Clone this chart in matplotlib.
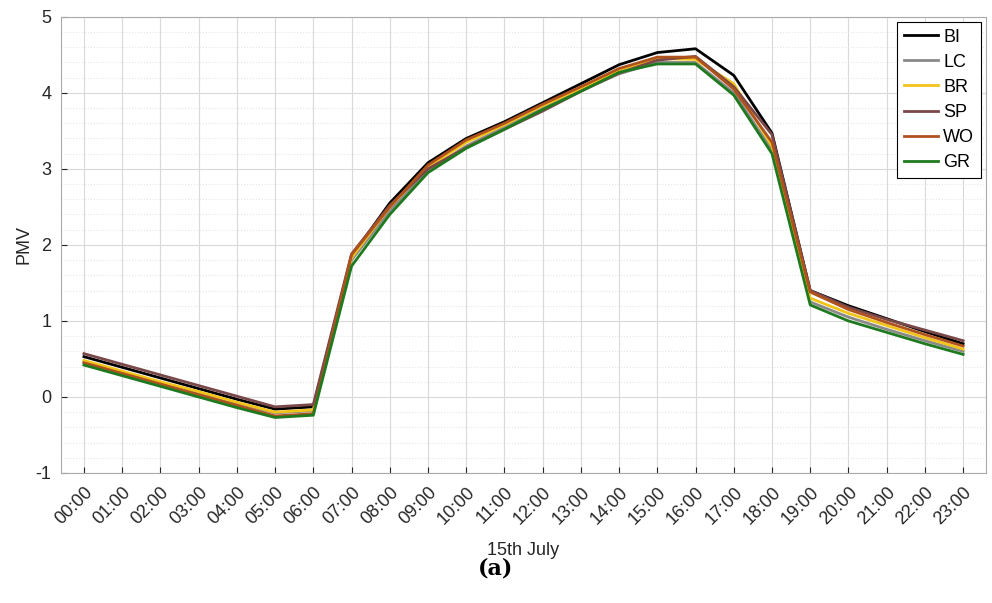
import numpy as np
import matplotlib
matplotlib.use('Agg')
import matplotlib.pyplot as plt
from matplotlib.ticker import MultipleLocator

plt.rcParams['font.family'] = ['Liberation Sans', 'DejaVu Sans']
plt.rcParams['axes.unicode_minus'] = False

hours = ['%02d:00' % h for h in range(24)]

# PMV values, one per hour
BI = [0.53, 0.39, 0.25, 0.11, -0.03, -0.16, -0.13, 1.85, 2.55, 3.08, 3.40, 3.62,
      3.87, 4.12, 4.37, 4.53, 4.58, 4.23, 3.47, 1.40, 1.20, 1.03, 0.86, 0.70]
LC = [0.46, 0.32, 0.18, 0.05, -0.08, -0.21, -0.18, 1.80, 2.45, 2.98, 3.30, 3.55,
      3.80, 4.03, 4.25, 4.40, 4.40, 4.00, 3.25, 1.25, 1.05, 0.89, 0.74, 0.60]
BR = [0.48, 0.34, 0.20, 0.07, -0.07, -0.20, -0.17, 1.83, 2.50, 3.02, 3.35, 3.58,
      3.83, 4.06, 4.30, 4.45, 4.44, 4.12, 3.30, 1.30, 1.10, 0.94, 0.78, 0.63]
SP = [0.57, 0.43, 0.29, 0.15, 0.01, -0.13, -0.10, 1.88, 2.52, 3.00, 3.28, 3.52,
      3.76, 4.02, 4.26, 4.43, 4.48, 4.08, 3.45, 1.40, 1.18, 1.02, 0.88, 0.74]
WO = [0.45, 0.31, 0.17, 0.03, -0.11, -0.25, -0.22, 1.87, 2.50, 3.05, 3.38, 3.60,
      3.85, 4.08, 4.32, 4.47, 4.47, 4.05, 3.35, 1.38, 1.15, 0.98, 0.82, 0.67]
GR = [0.42, 0.28, 0.14, 0.00, -0.14, -0.27, -0.24, 1.72, 2.40, 2.95, 3.27, 3.52,
      3.78, 4.02, 4.27, 4.38, 4.38, 3.97, 3.20, 1.21, 1.00, 0.85, 0.70, 0.56]

names = ['BI', 'LC', 'BR', 'SP', 'WO', 'GR']
series = [BI, LC, BR, SP, WO, GR]
clr = ['black', '#8a8a8a', '#f2c417', '#7a4848', '#b0521e', '#1f7a1f']

fig = plt.figure(figsize=(9.92, 6.03), dpi=100)
ax = fig.add_axes([0.0615, 0.2156, 0.9325, 0.7565])

x = np.arange(len(hours))
for name, y, c in zip(names, series, clr):
    ax.plot(x, y, color=c, linewidth=2, label=name)

ax.set_xlim(-0.6, 23.6)
ax.set_ylim(-1, 5)
ax.set_xticks(x)
ax.set_xticklabels(hours, rotation=45, ha='right', rotation_mode='anchor')
ax.yaxis.set_minor_locator(MultipleLocator(0.2))
ax.grid(True, which='major', color='#d9d9d9', linewidth=0.8)
ax.grid(True, which='minor', axis='y', color='#e6e6e6', linestyle=':', linewidth=0.8)
ax.set_axisbelow(True)
ax.tick_params(direction='in', labelsize=13, colors='#262626', length=4)
ax.tick_params(axis='x', pad=8)
ax.tick_params(axis='y', pad=7)
ax.tick_params(which='minor', length=0)
for s in ax.spines.values():
    s.set_color('#aaaaaa')

ax.set_ylabel('PMV', fontsize=13, color='#262626', labelpad=2)
ax.set_xlabel('15th July', fontsize=13, color='#262626', labelpad=10)

leg = ax.legend(loc='upper right', fontsize=13, fancybox=False, framealpha=1,
                edgecolor='black', borderaxespad=0.3, handlelength=1.9,
                handletextpad=0.3, labelspacing=0.45, borderpad=0.35)
leg.get_frame().set_linewidth(0.8)

fig.text(0.5, 0.058, '(a)', ha='center', va='center', fontsize=16,
         fontweight='bold', family='DejaVu Serif')

plt.savefig('out.png', dpi=100)
